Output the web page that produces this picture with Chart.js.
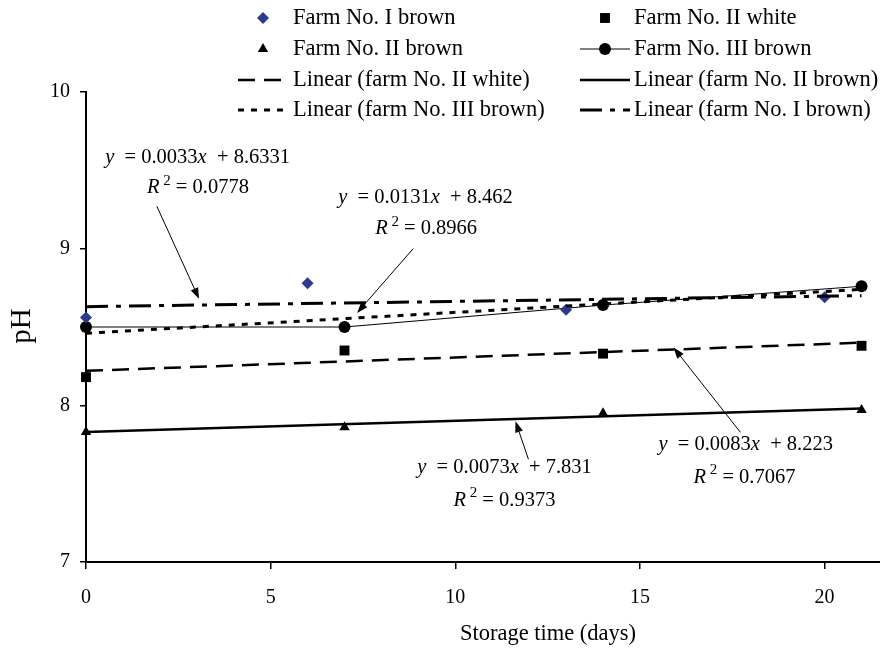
<!DOCTYPE html>
<html>
<head>
<meta charset="utf-8">
<script src="https://cdn.jsdelivr.net/npm/chart.js@4.4.1/dist/chart.umd.min.js"></script>
<style>
  html, body { margin: 0; padding: 0; background: #fff; }
  #wrap { width: 880px; height: 652px; }
</style>
</head>
<body>
<div id="wrap"><canvas id="myChart" width="880" height="652"></canvas></div>
<script>
// days of sampling
let days = [0, 7, 14, 21];
let farm1Days = [0, 6, 13, 20];

// pH values
let farm1Brown = [8.56, 8.78, 8.61, 8.69];
let farm2White = [8.18, 8.35, 8.33, 8.38];
let farm2Brown = [7.83, 7.86, 7.95, 7.97];
let farm3Brown = [8.50, 8.50, 8.64, 8.76];

// linear trend lines, ends at day 0 and day 21
let trendDays = [0, 21];
let trend2White = [8.22, 8.40];
let trend2Brown = [7.83, 7.98];
let trend3Brown = [8.46, 8.74];
let trend1Brown = [8.63, 8.70];

let xTicks = [0, 5, 10, 15, 20];
let yTicks = [7, 8, 9, 10];

let font = "'Liberation Serif', 'Times New Roman', serif";
let blue = '#2b3a8f';

function pts(xs, ys) {
    return xs.map((x, i) => ({ x: x, y: ys[i] }));
}

// equations written next to the trend lines: [x, y] of text and arrow in data units
let notes = [
    { a: '0.0033', b: '8.6331', r: '0.0778', at: [0.52, 9.58], r2at: [1.65, 9.39], from: [1.92, 9.27], to: [3.06, 8.68] },
    { a: '0.0131', b: '8.462', r: '0.8966', at: [6.83, 9.325], r2at: [7.83, 9.127], from: [8.86, 9.0], to: [7.34, 8.59] },
    { a: '0.0073', b: '7.831', r: '0.9373', at: [8.97, 7.60], r2at: [9.95, 7.395], from: [11.98, 7.656], to: [11.63, 7.898] },
    { a: '0.0083', b: '8.223', r: '0.7067', at: [15.5, 7.752], r2at: [16.45, 7.541], from: [17.72, 7.828], to: [15.91, 8.369] }
];

function drawArrow(ctx, x1, y1, x2, y2) {
    let ang = Math.atan2(y2 - y1, x2 - x1);
    ctx.beginPath();
    ctx.moveTo(x1, y1);
    ctx.lineTo(x2 - 8 * Math.cos(ang), y2 - 8 * Math.sin(ang));
    ctx.lineWidth = 1;
    ctx.strokeStyle = '#000';
    ctx.stroke();
    ctx.beginPath();
    ctx.moveTo(x2, y2);
    ctx.lineTo(x2 - 11 * Math.cos(ang) + 4 * Math.sin(ang), y2 - 11 * Math.sin(ang) - 4 * Math.cos(ang));
    ctx.lineTo(x2 - 11 * Math.cos(ang) - 4 * Math.sin(ang), y2 - 11 * Math.sin(ang) + 4 * Math.cos(ang));
    ctx.closePath();
    ctx.fillStyle = '#000';
    ctx.fill();
}

// write a row of pieces, some italic
function pieces(ctx, x, y, parts) {
    parts.forEach(p => {
        ctx.font = (p.it ? 'italic ' : '') + (p.size || 20.5) + 'px ' + font;
        ctx.fillText(p.t, x, y + (p.dy || 0));
        x += ctx.measureText(p.t).width;
    });
}

let notesPlugin = {
    id: 'notes',
    afterDatasetsDraw(chart) {
        let ctx = chart.ctx;
        let xs = chart.scales.x, ys = chart.scales.y;
        ctx.save();
        ctx.fillStyle = '#000';
        ctx.textBaseline = 'middle';
        ctx.textAlign = 'left';
        notes.forEach(n => {
            pieces(ctx, xs.getPixelForValue(n.at[0]), ys.getPixelForValue(n.at[1]), [
                { t: 'y', it: true }, { t: '  = ' + n.a }, { t: 'x', it: true }, { t: '  + ' + n.b }
            ]);
            pieces(ctx, xs.getPixelForValue(n.r2at[0]), ys.getPixelForValue(n.r2at[1]), [
                { t: 'R', it: true }, { t: ' 2', size: 15, dy: -7 }, { t: ' = ' + n.r }
            ]);
            drawArrow(ctx, xs.getPixelForValue(n.from[0]), ys.getPixelForValue(n.from[1]),
                xs.getPixelForValue(n.to[0]), ys.getPixelForValue(n.to[1]));
        });

        // axis titles
        ctx.font = '22.5px ' + font;
        ctx.textAlign = 'center';
        ctx.fillText('Storage time (days)', 548, 634);
        ctx.save();
        ctx.translate(22, 326);
        ctx.rotate(-Math.PI / 2);
        ctx.font = '29px ' + font;
        ctx.fillText('pH', 0, 0);
        ctx.restore();
        ctx.restore();
    }
};

// legend laid out in two columns like the original
let legendRows = [
    { ds: 4, col: 0, row: 0 }, { ds: 5, col: 1, row: 0 },
    { ds: 6, col: 0, row: 1 }, { ds: 7, col: 1, row: 1 },
    { ds: 0, col: 0, row: 2 }, { ds: 1, col: 1, row: 2 },
    { ds: 2, col: 0, row: 3 }, { ds: 3, col: 1, row: 3 }
];

let legendPlugin = {
    id: 'myLegend',
    afterDraw(chart) {
        let ctx = chart.ctx;
        let rowY = [18, 49, 80, 110];
        let colX = [238, 580];
        let textX = [293, 634];
        ctx.save();
        legendRows.forEach(item => {
            let d = chart.data.datasets[item.ds];
            let y = rowY[item.row];
            let x0 = colX[item.col];
            if (d.showLine) {
                ctx.beginPath();
                ctx.setLineDash(d.borderDash || []);
                ctx.lineWidth = d.borderWidth;
                ctx.strokeStyle = d.borderColor;
                ctx.moveTo(x0, y);
                ctx.lineTo(x0 + 50, y);
                ctx.stroke();
                ctx.setLineDash([]);
            }
            if (d.pointRadius > 0) {
                ctx.fillStyle = d.pointBackgroundColor;
                ctx.strokeStyle = d.pointBackgroundColor;
                Chart.helpers.drawPoint(ctx, { pointStyle: d.pointStyle, radius: d.pointRadius, borderWidth: 0, rotation: 0 }, x0 + 25, y);
            }
            ctx.fillStyle = '#000';
            ctx.textBaseline = 'middle';
            ctx.textAlign = 'left';
            ctx.font = '22.5px ' + font;
            ctx.fillText(d.label, textX[item.col], y);
        });
        ctx.restore();
    }
};

function trend(label, data, dash, width) {
    return {
        label: label,
        data: data,
        showLine: true,
        borderColor: '#000',
        borderWidth: width,
        borderDash: dash,
        pointRadius: 0,
        pointHoverRadius: 0,
        fill: false
    };
}

function marks(label, data, style, radius, color, line) {
    return {
        label: label,
        data: data,
        showLine: line,
        clip: false,
        borderColor: '#000',
        borderWidth: 1,
        pointStyle: style,
        pointRadius: radius,
        pointBackgroundColor: color,
        pointBorderColor: color,
        pointBorderWidth: 0,
        fill: false
    };
}

let ctx = document.getElementById('myChart').getContext('2d');

let chart = new Chart(ctx, {
    type: 'scatter',
    data: {
        datasets: [
            trend('Linear (farm No. II white)', pts(trendDays, trend2White), [17, 9], 2.5),
            trend('Linear (farm No. II brown)', pts(trendDays, trend2Brown), [], 2.5),
            trend('Linear (farm No. III brown)', pts(trendDays, trend3Brown), [6, 7], 3),
            trend('Linear (farm No. I brown)', pts(trendDays, trend1Brown), [22, 8, 5, 8], 3),
            marks('Farm No. I brown', pts(farm1Days, farm1Brown), 'rectRot', 6, blue, false),
            marks('Farm No. II white', pts(days, farm2White), 'rect', 7, '#000', false),
            marks('Farm No. II brown', pts(days, farm2Brown), 'triangle', 6, '#000', false),
            marks('Farm No. III brown', pts(days, farm3Brown), 'circle', 6, '#000', true)
        ]
    },
    options: {
        responsive: false,
        animation: false,
        layout: { autoPadding: false, padding: { left: 0, right: 0, top: 92, bottom: 0 } },
        plugins: {
            legend: { display: false },
            tooltip: { enabled: false }
        },
        scales: {
            x: {
                type: 'linear',
                min: 0,
                max: 21.5,
                afterFit(s) { s.height = 90; s.paddingLeft = 0; s.paddingRight = 0; },
                afterBuildTicks(s) { s.ticks = xTicks.map(v => ({ value: v })); },
                border: { color: '#000', width: 2 },
                grid: { display: true, drawOnChartArea: false, drawTicks: true, tickLength: 7, color: '#000', lineWidth: 1.5 },
                ticks: { color: '#000', padding: 17, font: { family: font, size: 20 } }
            },
            y: {
                min: 7,
                max: 10,
                afterFit(s) { s.width = 86; },
                afterBuildTicks(s) { s.ticks = yTicks.map(v => ({ value: v })); },
                border: { color: '#000', width: 2 },
                grid: { display: true, drawOnChartArea: false, drawTicks: true, tickLength: 6, color: '#000', lineWidth: 1.5 },
                ticks: { color: '#000', padding: 10, font: { family: font, size: 20 } }
            }
        }
    },
    plugins: [notesPlugin, legendPlugin]
});
</script>
</body>
</html>
